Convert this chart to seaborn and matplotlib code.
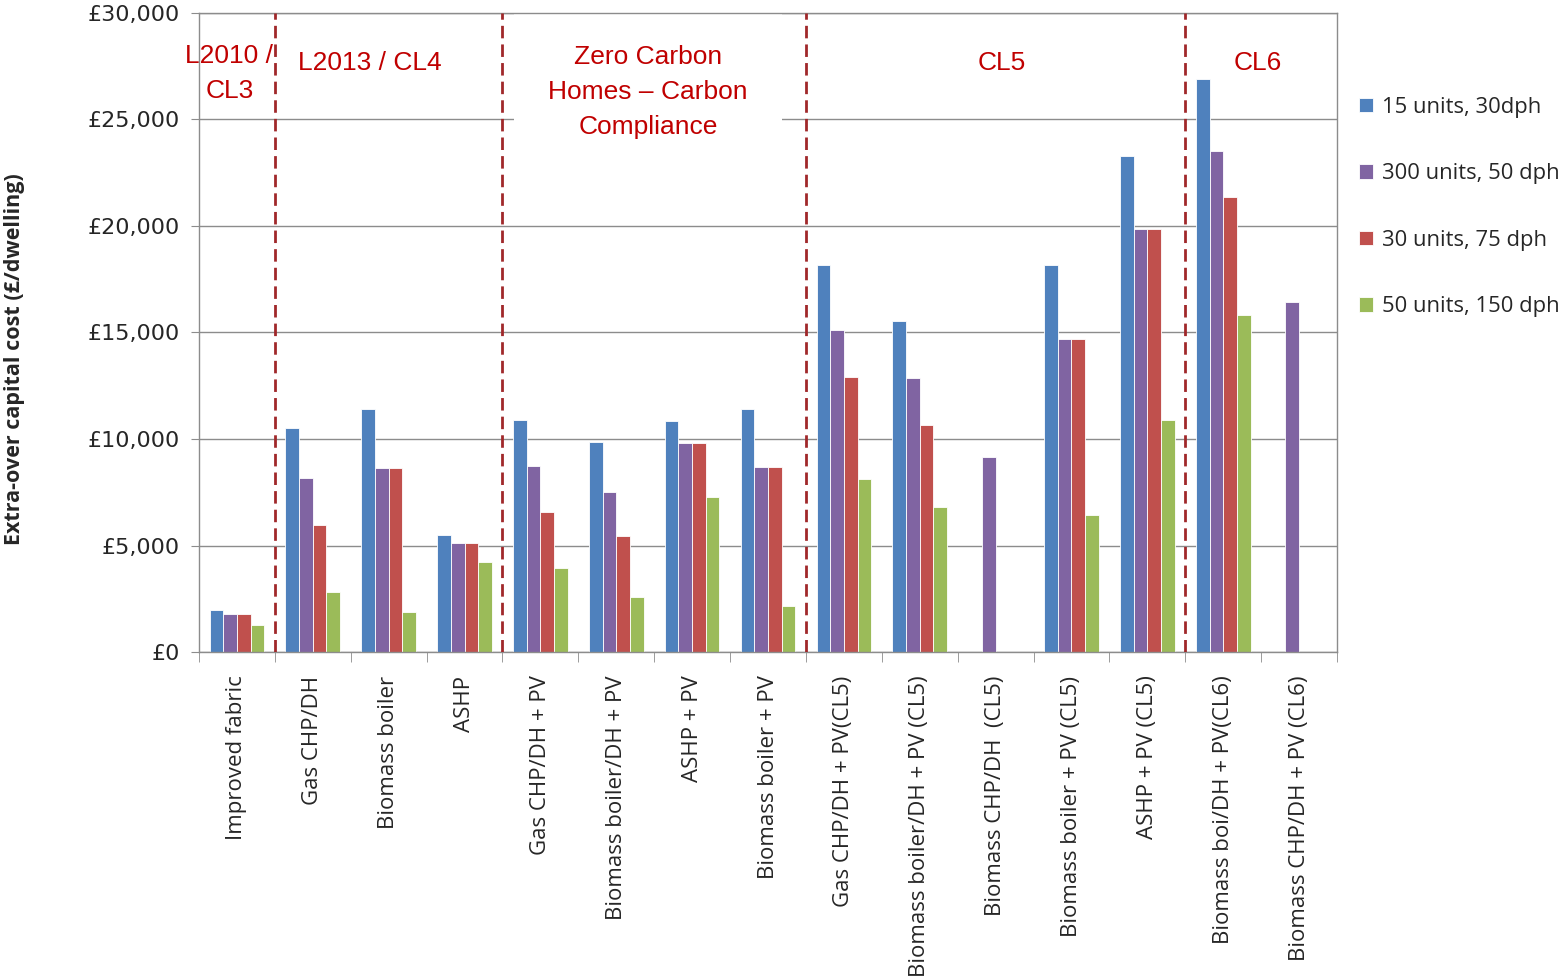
import numpy as np
import pandas as pd
import matplotlib
matplotlib.use("Agg")
import matplotlib.pyplot as plt
import seaborn as sns
from matplotlib.ticker import FuncFormatter

# ---------------------------------------------------------------------------
# Data (extra-over capital cost, £ per dwelling)
# ---------------------------------------------------------------------------
categories = [
    "Improved fabric",
    "Gas CHP/DH",
    "Biomass boiler",
    "ASHP",
    "Gas CHP/DH + PV",
    "Biomass boiler/DH + PV",
    "ASHP + PV",
    "Biomass boiler + PV",
    "Gas CHP/DH + PV(CL5)",
    "Biomass boiler/DH + PV (CL5)",
    "Biomass CHP/DH  (CL5)",
    "Biomass boiler + PV (CL5)",
    "ASHP + PV (CL5)",
    "Biomass boi/DH + PV(CL6)",
    "Biomass CHP/DH + PV (CL6)",
]
series = ["15 units, 30dph", "300 units, 50 dph", "30 units, 75 dph", "50 units, 150 dph"]

nan = np.nan
units_15 = [1990, 10520, 11410, 5500, 10910, 9880, 10840, 11410,
            18170, 15530, nan, 18170, 23270, 26880, nan]
units_300 = [1800, 8170, 8620, 5110, 8730, 7530, 9830, 8670,
             15140, 12850, 9140, 14710, 19870, 23530, 16420]
units_30 = [1800, 5940, 8620, 5110, 6580, 5440, 9830, 8670,
            12910, 10670, nan, 14710, 19870, 21350, nan]
units_50 = [1280, 2830, 1860, 4220, 3950, 2560, 7280, 2170,
            8110, 6790, nan, 6410, 10870, 15800, nan]

# policy bands: (label, x centre in category units, y)
bands = [
    ("L2010 /\nCL3", -0.1, 27150),
    ("L2013 / CL4", 1.75, 27650),
    ("Zero Carbon\nHomes \u2013 Carbon\nCompliance", 5.42, 26300),
    ("CL5", 10.08, 27650),
    ("CL6", 13.46, 27650),
]
band_edges = [0.5, 3.5, 7.5, 12.5]

df = pd.DataFrame({
    "category": np.tile(categories, 4),
    "series": np.repeat(series, len(categories)),
    "cost": units_15 + units_300 + units_30 + units_50,
})

colors = ["#4F81BD", "#8064A2", "#C0504D", "#9BBB59"]
grey = "#8C8C8C"
band_red = "#C00000"

# ---------------------------------------------------------------------------
# Figure
# ---------------------------------------------------------------------------
sns.set_style("white")
fig = plt.figure(figsize=(15.62, 9.8), dpi=100)
ax = fig.add_axes([199 / 1562, 1 - 652 / 980, (1337 - 199) / 1562, (652 - 13) / 980])

sns.barplot(data=df, x="category", y="cost", hue="series", hue_order=series,
            order=categories, palette=colors, width=0.72, saturation=1,
            edgecolor="white", linewidth=0.6, ax=ax, errorbar=None)

ax.set_xlim(-0.5, len(categories) - 0.5)
ax.set_ylim(0, 30000)
ax.set_yticks(np.arange(0, 30001, 5000))
ax.yaxis.set_major_formatter(FuncFormatter(lambda v, _: f"\u00a3{v:,.0f}"))
ax.yaxis.grid(True, color=grey, linewidth=1)
ax.set_axisbelow(True)

for s in ax.spines.values():
    s.set_color(grey)
    s.set_linewidth(1)

ax.tick_params(axis="y", which="major", direction="out", length=6, color=grey,
               labelsize=16, left=True, pad=8)
ax.set_xticks(np.arange(-0.5, len(categories), 1), minor=True)
ax.tick_params(axis="x", which="minor", direction="out", length=7, color=grey, bottom=True)
ax.tick_params(axis="x", which="major", length=0, pad=17)
ax.set_xticks(range(len(categories)))
ax.set_xticklabels(categories, rotation=90, ha="center", va="top",
                   fontsize=16, family="Open Sans")

ax.set_xlabel("")
ax.set_ylabel("Extra-over capital cost (\u00a3/dwelling)", fontsize=15.5,
              fontweight="bold", family="Open Sans", va="center")
ax.yaxis.set_label_coords(-0.1617, 0.459)

for x in band_edges:
    ax.axvline(x, color="#A0282A", linestyle=(0, (4.5, 2.2)), linewidth=2, zorder=4)

for label, x, y in bands:
    kw = {}
    if label.startswith("Zero"):
        kw["bbox"] = dict(boxstyle="square,pad=1.3", facecolor="white", edgecolor="none")
    ax.text(x, y, label, color=band_red, fontsize=19, family="Liberation Sans",
            ha="center", va="center", linespacing=1.58, zorder=2,
            clip_on=label.startswith("Zero"), **kw)

handles, labels = ax.get_legend_handles_labels()
ax.get_legend().remove()
fig.legend(handles, labels, loc="upper left",
           bbox_to_anchor=(1350 / 1562, 1 - 88 / 980), frameon=False,
           prop={"family": "Open Sans", "size": 15.8},
           handlelength=0.65, handleheight=0.65, handletextpad=0.4,
           labelspacing=2.07, borderaxespad=0)

fig.savefig("out.png", dpi=100)
